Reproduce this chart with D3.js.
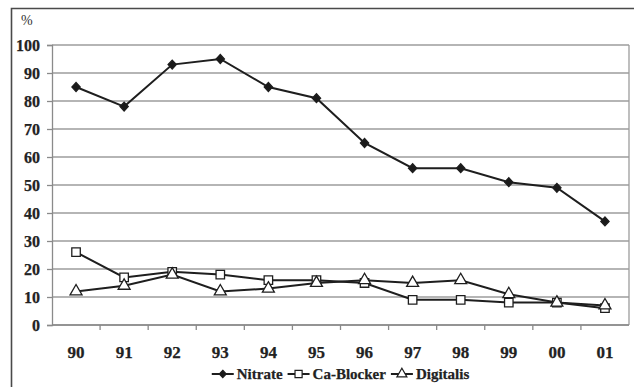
<!DOCTYPE html>
<html>
<head>
<meta charset="utf-8">
<script src="https://cdn.jsdelivr.net/npm/d3@7"></script>
<style>
  html, body { margin: 0; padding: 0; background: #fff; }
  svg { display: block; }
</style>
</head>
<body>
<svg id="chart" width="634" height="387"></svg>
<script>
// Share of patients on each drug class, by year (%)
const years = ["90", "91", "92", "93", "94", "95", "96", "97", "98", "99", "00", "01"];
const nitrate   = [85, 78, 93, 95, 85, 81, 65, 56, 56, 51, 49, 37];
const caBlocker = [26, 17, 19, 18, 16, 16, 15, 9, 9, 8, 8, 6];
const digitalis = [12, 14, 18, 12, 13, 15, 16, 15, 16, 11, 8, 7];
const yTicks = [0, 10, 20, 30, 40, 50, 60, 70, 80, 90, 100];
const seriesNames = ["Nitrate", "Ca-Blocker", "Digitalis"];

const SERIF = "'Liberation Serif', 'Times New Roman', serif";
const INK = "#222";

// near-square diamond marker
const squareDiamond = {
  draw(ctx, size) {
    const r = Math.sqrt(size / 2);
    ctx.moveTo(0, -r * 1.08);
    ctx.lineTo(r, 0);
    ctx.lineTo(0, r * 1.08);
    ctx.lineTo(-r, 0);
    ctx.closePath();
  }
};

const series = [
  { name: seriesNames[0], values: nitrate, symbol: squareDiamond, size: 34, fill: "#1a1a1a" },
  { name: seriesNames[1], values: caBlocker, symbol: d3.symbolSquare, size: 72, fill: "#fff" },
  { name: seriesNames[2], values: digitalis, symbol: d3.symbolTriangle, size: 62, fill: "#fff" }
];

const svg = d3.select("#chart");
const plot = { left: 52, right: 629, top: 45, bottom: 325 };

function boldText(sel, size) {
  return sel.style("font-family", SERIF)
    .style("font-size", size + "px")
    .style("font-weight", "bold")
    .attr("fill", INK)
    .attr("stroke", INK)
    .attr("stroke-width", 0.25);
}

// outer frame (left and top edges)
svg.append("path")
  .attr("d", "M11.5,387 V8.5 H634")
  .attr("fill", "none")
  .attr("stroke", "#4a4a4a")
  .attr("stroke-width", 1.6);

const x = d3.scaleBand().domain(years).range([plot.left, plot.right]);
const y = d3.scaleLinear().domain([0, 100]).range([plot.bottom, plot.top]);

// horizontal gridlines
svg.append("g")
  .selectAll("line")
  .data(yTicks)
  .join("line")
  .attr("x1", plot.left).attr("x2", plot.right)
  .attr("y1", d => y(d)).attr("y2", d => y(d))
  .attr("stroke", "#9c9c9c")
  .attr("stroke-width", 1.3);

// right edge of plot area
svg.append("line")
  .attr("x1", plot.right).attr("x2", plot.right)
  .attr("y1", plot.top).attr("y2", plot.bottom)
  .attr("stroke", "#9c9c9c").attr("stroke-width", 1.3);

// y axis
const yAxis = svg.append("g")
  .attr("transform", `translate(${plot.left},0)`)
  .call(d3.axisLeft(y).tickValues(yTicks).tickSize(5).tickPadding(7));
yAxis.attr("font-family", null).attr("font-size", null);
yAxis.select(".domain").attr("stroke", "#8a8a8a").attr("stroke-width", 1.3);
yAxis.selectAll(".tick line").attr("stroke", "#8a8a8a").attr("stroke-width", 1.3);
boldText(yAxis.selectAll(".tick text"), 16);

// x axis: ticks on band boundaries, labels centred in each band
const xAxisG = svg.append("g").attr("transform", `translate(0,${plot.bottom})`);
xAxisG.append("line")
  .attr("x1", plot.left).attr("x2", plot.right)
  .attr("stroke", "#8a8a8a").attr("stroke-width", 1.3);
xAxisG.selectAll("line.tk")
  .data(years.slice(1))
  .join("line")
  .attr("class", "tk")
  .attr("x1", d => x(d)).attr("x2", d => x(d))
  .attr("y1", 0).attr("y2", 5)
  .attr("stroke", "#8a8a8a").attr("stroke-width", 1.3);
boldText(xAxisG.selectAll("text")
  .data(years)
  .join("text")
  .attr("x", d => x(d) + x.bandwidth() / 2)
  .attr("y", 33)
  .attr("text-anchor", "middle")
  .text(d => d), 17);

// unit label
svg.append("text")
  .attr("x", 21).attr("y", 25)
  .style("font-family", SERIF).style("font-size", "14px")
  .attr("fill", "#333")
  .text("%");

const cx = d => x(d) + x.bandwidth() / 2;
const line = d3.line().x((v, i) => cx(years[i])).y(v => y(v));

// series lines, then markers
series.forEach(s => {
  svg.append("path")
    .datum(s.values)
    .attr("d", line)
    .attr("fill", "none")
    .attr("stroke", "#1e1e1e")
    .attr("stroke-width", 2);
});
series.forEach(s => {
  svg.append("g")
    .selectAll("path")
    .data(s.values)
    .join("path")
    .attr("transform", (v, i) => `translate(${cx(years[i])},${y(v)})`)
    .attr("d", d3.symbol().type(s.symbol).size(s.size))
    .attr("fill", s.fill)
    .attr("stroke", "#1e1e1e")
    .attr("stroke-width", 1.3);
});

// legend, centred under the plot
const swatchW = 22, swatchGap = 3, itemGap = 5;
const legend = svg.append("g").attr("transform", "translate(0,379)");
const items = series.map(s => {
  const g = legend.append("g");
  g.append("line").attr("x1", 0).attr("x2", swatchW).attr("y1", -5).attr("y2", -5)
    .attr("stroke", "#1e1e1e").attr("stroke-width", 2);
  g.append("path")
    .attr("transform", `translate(${swatchW / 2},-5)`)
    .attr("d", d3.symbol().type(s.symbol).size(s.size * 0.7))
    .attr("fill", s.fill).attr("stroke", "#1e1e1e").attr("stroke-width", 1.2);
  const t = boldText(g.append("text").attr("x", swatchW + swatchGap).attr("y", 0).text(s.name), 15);
  return { g, w: swatchW + swatchGap + t.node().getComputedTextLength() };
});
const totalW = d3.sum(items, d => d.w) + itemGap * (items.length - 1);
let lx = (plot.left + plot.right) / 2 - totalW / 2;
items.forEach(it => {
  it.g.attr("transform", `translate(${lx},0)`);
  lx += it.w + itemGap;
});
</script>
</body>
</html>
